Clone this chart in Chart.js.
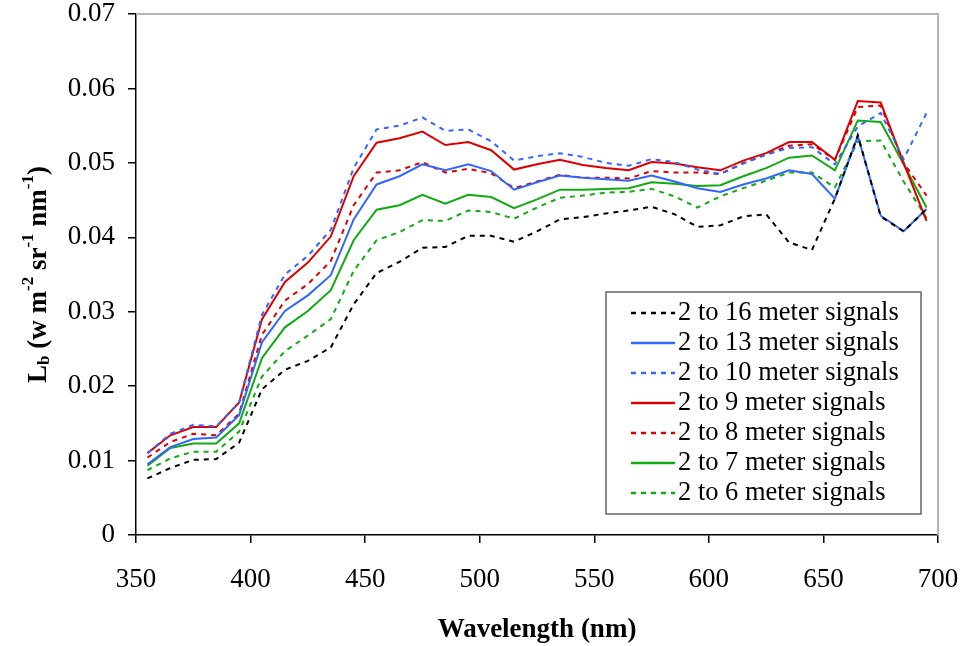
<!DOCTYPE html>
<html>
<head>
<meta charset="utf-8">
<script src="https://cdn.jsdelivr.net/npm/chart.js@4"></script>
<style>
  body { margin: 0; background: #fff; }
  #wrap { width: 961px; height: 646px; }
</style>
</head>
<body>
<div id="wrap"><canvas id="chart" width="961" height="646"></canvas></div>
<script>
// wavelengths (nm)
const wavelengths = [355, 365, 375, 385, 395, 405, 415, 425, 435, 445, 455, 465, 475, 485, 495, 505, 515, 525,
    535, 545, 555, 565, 575, 585, 595, 605, 615, 625, 635, 645, 655, 665, 675, 685, 695];

const sig16 = [0.0076, 0.0090, 0.0101, 0.0102, 0.0124, 0.0196, 0.0222, 0.0234, 0.0252, 0.0310, 0.0352, 0.0367,
    0.0386, 0.0387, 0.0402, 0.0402, 0.0394, 0.0408, 0.0424, 0.0427, 0.0432, 0.0436, 0.0441, 0.0431, 0.0414,
    0.0416, 0.0428, 0.0431, 0.0393, 0.0383, 0.0452, 0.0537, 0.0428, 0.0408, 0.0438];
const sig13 = [0.0095, 0.0118, 0.0129, 0.0131, 0.0161, 0.0259, 0.0301, 0.0322, 0.0349, 0.0424, 0.0471, 0.0482,
    0.0498, 0.0490, 0.0498, 0.0489, 0.0464, 0.0474, 0.0483, 0.0480, 0.0478, 0.0476, 0.0483, 0.0475, 0.0466,
    0.0461, 0.0471, 0.0479, 0.0490, 0.0485, 0.0452, 0.0536, 0.0429, 0.0408, 0.0438];
const sig10 = [0.0110, 0.0136, 0.0148, 0.0146, 0.0178, 0.0296, 0.0350, 0.0375, 0.0410, 0.0493, 0.0545, 0.0550,
    0.0561, 0.0543, 0.0545, 0.0529, 0.0503, 0.0509, 0.0513, 0.0508, 0.0500, 0.0496, 0.0505, 0.0501, 0.0491,
    0.0485, 0.0499, 0.0511, 0.0520, 0.0521, 0.0498, 0.0549, 0.0567, 0.0505, 0.0567];
const sig9 = [0.0110, 0.0134, 0.0145, 0.0145, 0.0178, 0.0290, 0.0340, 0.0366, 0.0401, 0.0482, 0.0527, 0.0533,
    0.0542, 0.0524, 0.0528, 0.0517, 0.0491, 0.0498, 0.0504, 0.0497, 0.0493, 0.0490, 0.0501, 0.0499, 0.0494,
    0.0490, 0.0503, 0.0513, 0.0528, 0.0528, 0.0504, 0.0583, 0.0581, 0.0500, 0.0422];
const sig8 = [0.0104, 0.0125, 0.0136, 0.0134, 0.0163, 0.0269, 0.0315, 0.0337, 0.0368, 0.0443, 0.0487, 0.0490,
    0.0501, 0.0487, 0.0492, 0.0486, 0.0466, 0.0475, 0.0484, 0.0480, 0.0480, 0.0479, 0.0489, 0.0487, 0.0487,
    0.0485, 0.0500, 0.0511, 0.0523, 0.0525, 0.0504, 0.0575, 0.0577, 0.0500, 0.0456];
const sig7 = [0.0093, 0.0117, 0.0123, 0.0123, 0.0150, 0.0238, 0.0279, 0.0301, 0.0329, 0.0396, 0.0437, 0.0443,
    0.0457, 0.0445, 0.0457, 0.0454, 0.0439, 0.0451, 0.0464, 0.0464, 0.0465, 0.0466, 0.0474, 0.0472, 0.0469,
    0.0470, 0.0482, 0.0493, 0.0507, 0.0510, 0.0490, 0.0557, 0.0555, 0.0498, 0.0440];
const sig6 = [0.0087, 0.0103, 0.0112, 0.0112, 0.0139, 0.0213, 0.0247, 0.0268, 0.0290, 0.0355, 0.0396, 0.0407,
    0.0423, 0.0422, 0.0436, 0.0434, 0.0425, 0.0440, 0.0453, 0.0456, 0.0460, 0.0461, 0.0465, 0.0455, 0.0440,
    0.0455, 0.0466, 0.0476, 0.0487, 0.0487, 0.0467, 0.0529, 0.0530, 0.0475, 0.0426];

const xTicks = [350, 400, 450, 500, 550, 600, 650, 700];
const yTicks = [0, 0.01, 0.02, 0.03, 0.04, 0.05, 0.06, 0.07];

const BLACK = '#000000';
const BLUE = '#3366ff';
const RED = '#dd0000';
const GREEN = '#11aa11';
const SERIF = '"Liberation Serif", "Times New Roman", serif';

function series(label, values, color, dotted) {
    return {
        label: label,
        data: values.map((v, i) => ({ x: wavelengths[i], y: v })),
        borderColor: color,
        backgroundColor: color,
        borderWidth: 2,
        borderDash: dotted ? [5, 5] : [],
        pointRadius: 0,
        tension: 0,
        fill: false
    };
}

// gray frame on top and right of the plot
const frame = {
    id: 'frame',
    beforeDatasetsDraw(chart) {
        const a = chart.chartArea, c = chart.ctx;
        c.save();
        c.strokeStyle = '#b4b4b4';
        c.lineWidth = 2;
        c.beginPath();
        c.moveTo(a.left, a.top);
        c.lineTo(a.right, a.top);
        c.lineTo(a.right, a.bottom);
        c.stroke();
        c.restore();
    }
};

// y title with subscript / superscripts
const yTitle = {
    id: 'yTitle',
    afterDraw(chart) {
        const c = chart.ctx, a = chart.chartArea;
        const big = 'bold 27px ' + SERIF, small = 'bold 17px ' + SERIF;
        const parts = [
            ['L', big, 0], ['b', small, 6], [' (w m', big, 0], ['-2', small, -10], [' sr', big, 0],
            ['-1', small, -10], [' nm', big, 0], ['-1', small, -10], [')', big, 0]
        ];
        c.save();
        let total = 0;
        parts.forEach(p => { c.font = p[1]; total += c.measureText(p[0]).width; });
        c.translate(38, (a.top + a.bottom) / 2);
        c.rotate(-Math.PI / 2);
        c.fillStyle = '#000';
        c.textBaseline = 'middle';
        let x = -total / 2;
        parts.forEach(p => {
            c.font = p[1];
            c.fillText(p[0], x, p[2] + 1);
            x += c.measureText(p[0]).width;
        });
        c.restore();
    }
};

// boxed legend inside the plot, lower right
const boxLegend = {
    id: 'boxLegend',
    afterDraw(chart) {
        const c = chart.ctx, a = chart.chartArea;
        const right = a.right - 17, bottom = a.bottom - 21;
        const left = right - 315, top = bottom - 222;
        c.save();
        c.fillStyle = '#fff';
        c.fillRect(left, top, right - left, bottom - top);
        c.strokeStyle = '#666';
        c.lineWidth = 1.5;
        c.strokeRect(left, top, right - left, bottom - top);
        c.font = '26.5px ' + SERIF;
        c.textBaseline = 'middle';
        chart.data.datasets.forEach((ds, i) => {
            const y = top + 21 + i * 30;
            c.strokeStyle = ds.borderColor;
            c.lineWidth = 2.5;
            c.setLineDash(ds.borderDash.length ? [5, 5] : []);
            c.beginPath();
            c.moveTo(left + 25, y);
            c.lineTo(left + 69, y);
            c.stroke();
            c.setLineDash([]);
            c.fillStyle = '#000';
            c.fillText(ds.label, left + 72, y);
        });
        c.restore();
    }
};

new Chart(document.getElementById('chart').getContext('2d'), {
    type: 'line',
    data: {
        datasets: [
            series('2 to 16 meter signals', sig16, BLACK, true),
            series('2 to 13 meter signals', sig13, BLUE, false),
            series('2 to 10 meter signals', sig10, BLUE, true),
            series('2 to 9 meter signals', sig9, RED, false),
            series('2 to 8 meter signals', sig8, RED, true),
            series('2 to 7 meter signals', sig7, GREEN, false),
            series('2 to 6 meter signals', sig6, GREEN, true)
        ]
    },
    options: {
        responsive: false,
        animation: false,
        layout: { padding: { left: 0, top: 14, right: 23, bottom: 0 } },
        plugins: {
            legend: { display: false },
            tooltip: { enabled: false }
        },
        scales: {
            x: {
                type: 'linear',
                min: xTicks[0],
                max: xTicks[xTicks.length - 1],
                afterBuildTicks: s => { s.ticks = xTicks.map(v => ({ value: v })); },
                afterFit: s => { s.height = 111; s.paddingLeft = 0; s.paddingRight = 0; },
                grid: { drawOnChartArea: false, drawTicks: true, tickLength: 8, color: '#000', lineWidth: 1.5 },
                border: { color: '#000', width: 1.5 },
                ticks: { color: '#000', padding: 21, maxRotation: 0, font: { family: SERIF, size: 27 } },
                title: {
                    display: true,
                    text: 'Wavelength (nm)',
                    color: '#000',
                    padding: { top: 0, bottom: 0 },
                    font: { family: SERIF, size: 27, weight: 'bold' }
                }
            },
            y: {
                min: yTicks[0],
                max: yTicks[yTicks.length - 1],
                afterBuildTicks: s => { s.ticks = yTicks.map(v => ({ value: v })); },
                afterFit: s => { s.width = 136; s.paddingTop = 0; s.paddingBottom = 0; },
                grid: { drawOnChartArea: false, drawTicks: true, tickLength: 8, color: '#000', lineWidth: 1.5 },
                border: { color: '#000', width: 1.5 },
                ticks: {
                    color: '#000',
                    padding: 13,
                    font: { family: SERIF, size: 27 },
                    callback: v => String(+v.toFixed(2))
                }
            }
        }
    },
    plugins: [frame, yTitle, boxLegend]
});
</script>
</body>
</html>
